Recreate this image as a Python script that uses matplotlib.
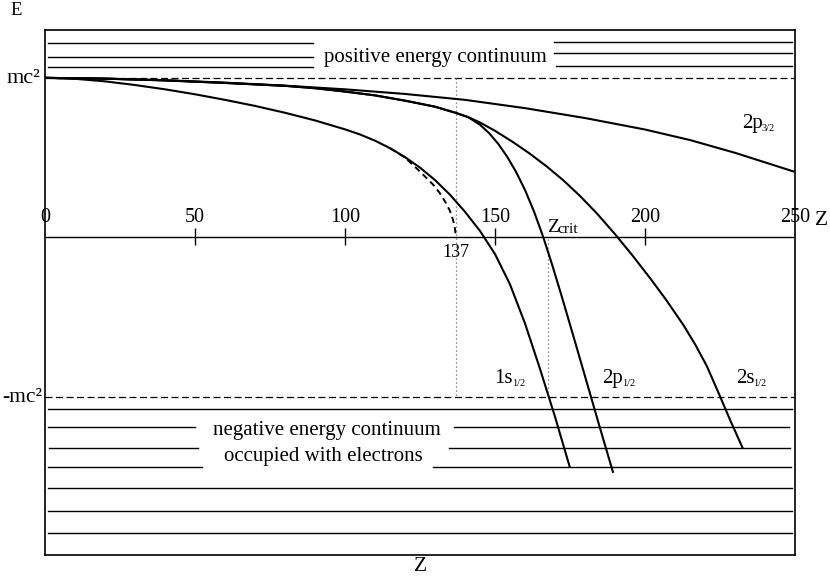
import matplotlib.pyplot as plt

plt.rcParams['font.family'] = ['Liberation Serif', 'DejaVu Serif']

# --- data (Z, E in units of mc^2) ---
z_ticks = [0, 50, 100, 150, 200, 250]

z_1s = [0, 10, 20, 30, 40, 50, 60, 70, 80, 90, 100, 105, 110, 115, 120, 125,
        130, 135, 140, 145, 150, 155, 160, 165, 170, 175]
e_1s = [1.0, 0.994, 0.978, 0.955, 0.928, 0.897, 0.862, 0.824, 0.781, 0.733,
        0.677, 0.645, 0.606, 0.559, 0.503, 0.437, 0.359, 0.267, 0.16, 0.04,
        -0.105, -0.295, -0.54, -0.825, -1.125, -1.445]

# point nucleus (dashed) part of 1s
z_1s_point = [115, 120, 124, 127, 129.4, 131.5, 133.5, 135, 136, 136.6, 137.0]
e_1s_point = [0.559, 0.50, 0.43, 0.375, 0.33, 0.28, 0.22, 0.165, 0.11, 0.06, 0.0]

z_2p32 = [0, 20, 40, 60, 80, 100, 120, 140, 160, 180, 200, 215, 230, 240, 250]
e_2p32 = [1.0, 0.995, 0.985, 0.97, 0.951, 0.928, 0.899, 0.862, 0.81, 0.748,
          0.676, 0.61, 0.53, 0.47, 0.41]

# 2s and 2p1/2 run together up to Z ~ 137
z_bundle = [0, 20, 40, 60, 80, 90, 100, 110, 120, 130, 137]
e_bundle = [1.0, 0.995, 0.984, 0.968, 0.95, 0.935, 0.914, 0.89, 0.857, 0.819, 0.78]

z_2s = [141, 145, 150, 156, 161.5, 167.2, 172.8, 178.3, 184, 190, 196, 201.7,
        207, 212.8, 216.8, 220.6, 224.5, 228.5, 232.6]
e_2s = [0.754, 0.72, 0.668, 0.597, 0.526, 0.445, 0.357, 0.26, 0.149, 0.02,
        -0.118, -0.256, -0.391, -0.55, -0.674, -0.807, -0.975, -1.151, -1.323]

z_2p12 = [141, 145, 148, 151, 154, 157, 160, 163, 166, 169, 172, 176, 181, 185, 189.4]
e_2p12 = [0.754, 0.706, 0.654, 0.588, 0.507, 0.411, 0.297, 0.162, 0.006, -0.169,
          -0.355, -0.611, -0.936, -1.196, -1.477]

z_137 = 137
z_crit = 167.5

# continuum levels: (E, Z start, Z end)
pos_levels = [(1.218, 1, 89.3), (1.131, 1, 89.3), (1.068, 1, 89.3),
              (1.224, 169.5, 249), (1.155, 169.5, 249), (1.074, 170.3, 249)]
neg_levels = [(-1.078, 1, 249), (-1.19, 1, 50), (-1.19, 136.3, 248),
              (-1.321, 1.3, 51), (-1.321, 134.7, 248.3),
              (-1.443, 1, 52.3), (-1.443, 129.3, 248.7),
              (-1.572, 1, 249), (-1.713, 1, 249), (-1.852, 1, 249)]

fig = plt.figure(figsize=(8.3, 5.78), dpi=100)
ax = fig.add_axes([45 / 830, 1 - 555 / 578, 750 / 830, 525 / 578])
ax.set_xlim(0, 250)
ax.set_ylim(-1.992, 1.30)
ax.set_xticks([])
ax.set_yticks([])
for sp in ax.spines.values():
    sp.set_linewidth(1.2)

# continuum lines
for e, z0, z1 in pos_levels + neg_levels:
    ax.plot([z0, z1], [e, e], color='black', lw=1.0)

# +-mc^2 dashed lines
for e in (1.0, -1.0):
    ax.plot([0, 250], [e, e], color='black', lw=0.9, dashes=(5.6, 2.8))

# Z axis with ticks
ax.plot([0, 250], [0, 0], color='black', lw=1.0)
ax.vlines(z_ticks[1:-1], -0.05, 0.058, color='black', lw=1.0)
for z in z_ticks:
    ax.text(z, 0.098, str(z), ha='center', va='baseline', fontsize=14.5)

# dotted verticals
ax.plot([z_137, z_137], [1.0, -1.0], color='#666666', lw=0.9, ls=(0, (1, 2.2)))
ax.plot([z_crit, z_crit], [-0.01, -1.0], color='#666666', lw=0.9, ls=(0, (1, 2.2)))

# level curves
curves = [
    (z_1s, e_1s),
    (z_2p32, e_2p32),
    (z_bundle + z_2s, e_bundle + e_2s),
    (z_bundle + z_2p12, e_bundle + e_2p12),
]
for z, e in curves:
    ax.plot(z, e, color='black', lw=1.5, solid_capstyle='butt', solid_joinstyle='round')
ax.plot(z_1s_point, e_1s_point, color='black', lw=1.4, dashes=(3.2, 2.2))


def sub_label(x, y, main, sub, size=15, subsize=7.5):
    t = ax.text(x, y, main, fontsize=size, ha='left', va='baseline')
    ax.annotate(sub, xy=(1, 0), xycoords=t, xytext=(-0.8, 0),
                textcoords='offset points', fontsize=subsize,
                ha='left', va='bottom')


sub_label(232.4, 0.683, '2p', '3/2')
sub_label(149.8, -0.912, '1s', '1/2')
sub_label(185.8, -0.912, '2p', '1/2')
sub_label(230.3, -0.912, '2s', '1/2')
sub_label(167.3, 0.035, 'Z', 'crit', size=14, subsize=11)

ax.text(z_137, -0.123, '137', ha='center', va='baseline', fontsize=13)
ax.text(130, 1.101, 'positive energy continuum', ha='center', va='baseline', fontsize=15)
ax.text(94, -1.239, 'negative energy continuum', ha='center', va='baseline', fontsize=15)
ax.text(92.7, -1.40, 'occupied with electrons', ha='center', va='baseline', fontsize=15)

ax.text(256.7, 0.077, 'Z', ha='left', va='baseline', fontsize=15.5)
ax.text(125.3, -2.09, 'Z', ha='center', va='baseline', fontsize=15.5)
ax.text(-11.67, 1.394, 'E', ha='left', va='baseline', fontsize=13.5)
ax.text(-1.67, 0.966, 'mc²', ha='right', va='baseline', fontsize=16)
ax.text(-1.0, -1.031, '-mc²', ha='right', va='baseline', fontsize=15.5)

fig.savefig('out.png', dpi=100, facecolor='white')
